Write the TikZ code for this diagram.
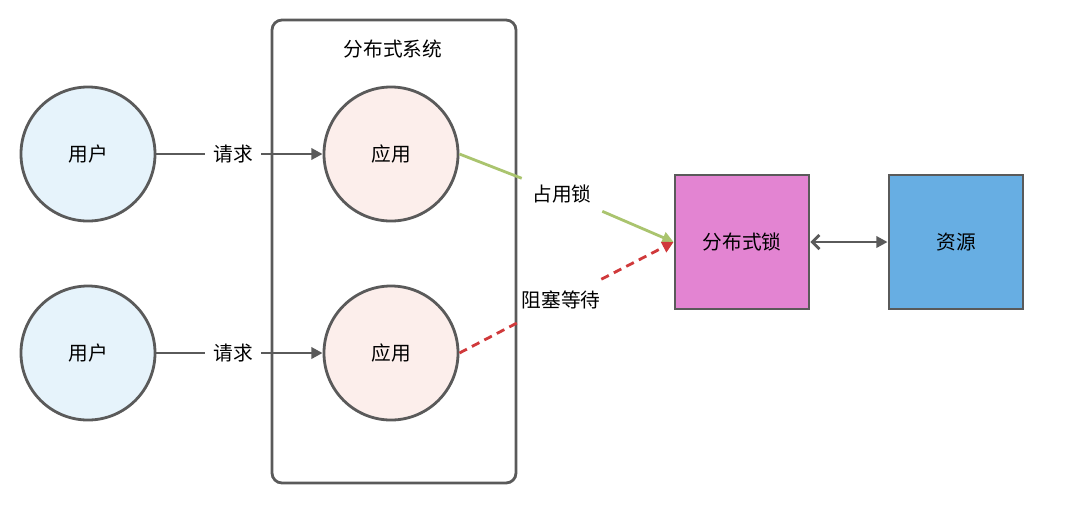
\documentclass[tikz,border=0pt]{standalone}
\usepackage{fontspec}
\usepackage{xcolor}
\usepackage{tikz}
\usetikzlibrary{shapes.geometric, arrows.meta, positioning, calc}
\setmainfont{Noto Sans CJK SC}
\definecolor{mygray}{RGB}{90,90,90}
\definecolor{mygreen}{RGB}{170,196,110}
\definecolor{myred}{RGB}{208,57,59}
\definecolor{hdrblue}{RGB}{230,243,251}
\definecolor{hdrpink}{RGB}{252,238,235}
\definecolor{lockpink}{RGB}{227,132,210}
\definecolor{resblue}{RGB}{103,174,227}
\tikzset{
  usernode/.style={circle, draw=mygray, fill=hdrblue,
    minimum size=3.35cm, inner sep=0pt, line width=2pt},
  appnode/.style={circle, draw=mygray, fill=hdrpink,
    minimum size=3.35cm, inner sep=0pt, line width=2pt},
  boxnode/.style={rectangle, draw=mygray, minimum size=3.35cm,
    inner sep=0pt, line width=2pt},
  lbl/.style={rectangle, inner sep=0pt, minimum height=1.1cm, minimum width=1.4cm},
  wlbl/.style={lbl, minimum width=2.0cm},
  arrow/.style={-{Triangle[length=8pt,width=8pt]}, line width=2pt, color=mygray},
  line/.style={line width=2pt, color=mygray}
}

\begin{document}
\begin{tikzpicture}[x=0.025cm, y=-0.025cm, font=\fontsize{14pt}{16pt}\selectfont]
  \useasboundingbox (0,0) rectangle (1082,516);
  % distributed system frame
  \draw[line, rounded corners=0.25cm] (272,20) rectangle (516,483);
  \node (sys) at (393,49) {分布式系统};

  \node[usernode] (user1) at (88,154) {用户};
  \node[usernode] (user2) at (88,353) {用户};
  \node[appnode] (app1) at (391,154) {应用};
  \node[appnode] (app2) at (391,353) {应用};

  \node[lbl] (req1) at (233,154) {请求};
  \node[lbl] (req2) at (233,353) {请求};
  \draw[line] (user1) -- (req1);
  \draw[arrow] (req1) -- (app1);
  \draw[line] (user2) -- (req2);
  \draw[arrow] (req2) -- (app2);

  \node[boxnode, fill=lockpink] (lock) at (742,242) {分布式锁};
  \node[boxnode, fill=resblue] (res) at (956,242) {资源};
  \draw[{Straight Barb[length=5pt,width=10pt]}-{Triangle[length=8pt,width=8pt]},
    line width=2pt, mygray] (lock) -- (res);

  % lock acquired / waiting
  \node[wlbl] (occ) at (562,194) {占用锁};
  \node[wlbl] (wait) at (561,300) {阻塞等待};
  \draw[line, mygreen] (app1.east) -- (occ);
  \draw[arrow, mygreen] (occ) -- (lock.west);
  \draw[line, myred, dash pattern=on 6pt off 4pt] (app2.east) -- (wait);
  \draw[arrow, myred, dash pattern=on 6pt off 4pt] (wait) -- (lock.west);
\end{tikzpicture}
\end{document}
